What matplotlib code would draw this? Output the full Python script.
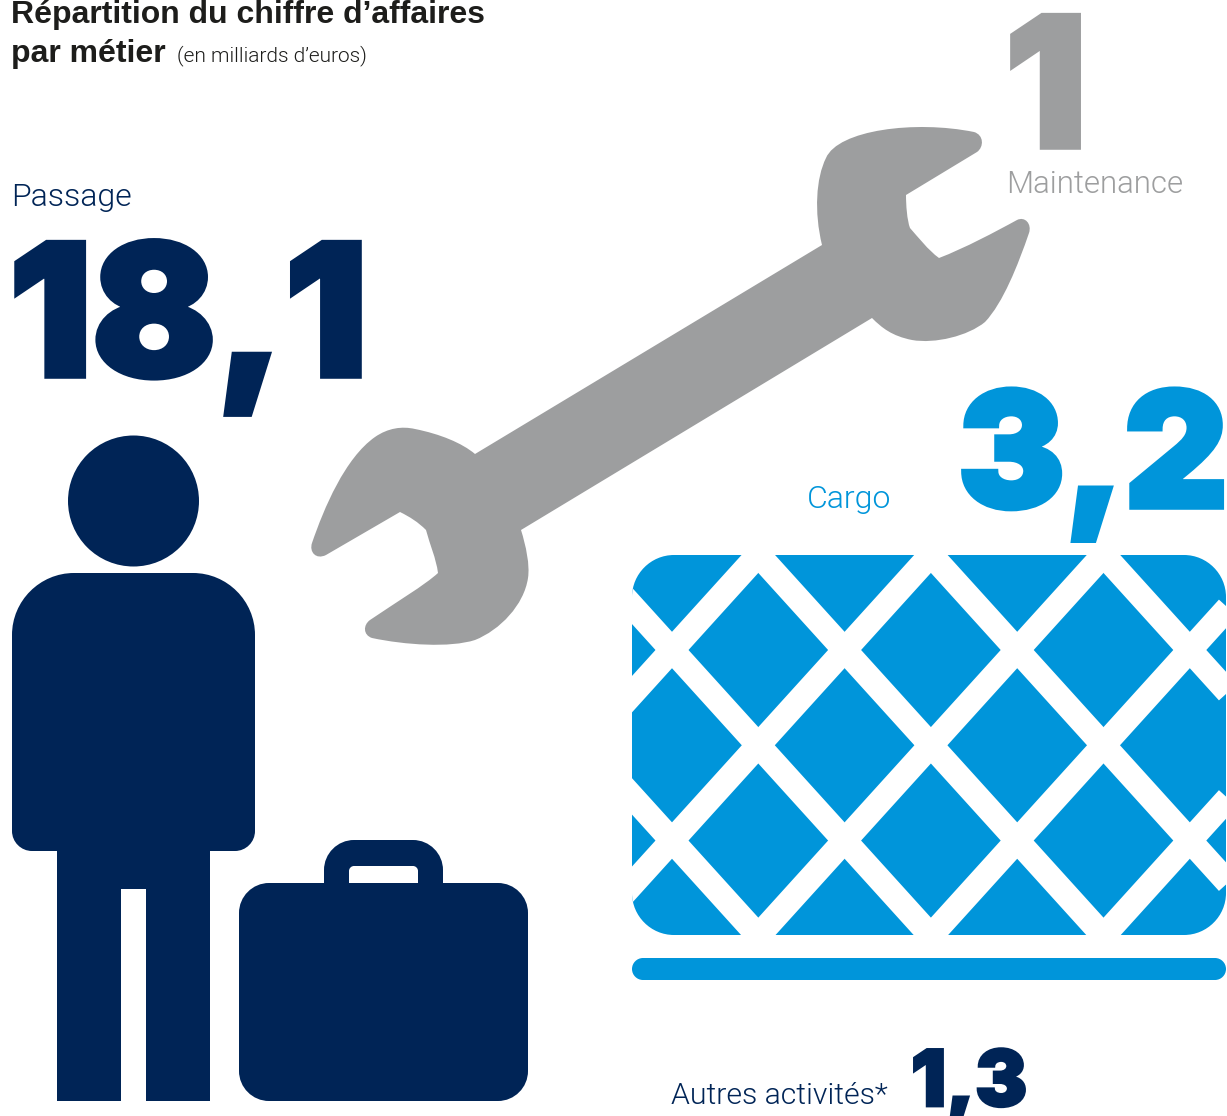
import matplotlib
matplotlib.use("Agg")
import matplotlib.pyplot as plt
import matplotlib.patheffects as pe
from matplotlib.patches import Circle, PathPatch, Rectangle
from matplotlib.path import Path

# Revenue by business line, in billions of euros
categories = ["Passage", "Maintenance", "Cargo", "Autres activités*"]
values = [18.1, 1, 3.2, 1.3]
title_lines = ["Répartition du chiffre d’affaires", "par métier"]
unit_note = "(en milliards d’euros)"

NAVY = "#002456"
GREY = "#9d9e9f"
BLUE = "#0095da"
INK = "#1d1d1b"
TITLE_FONT = "Liberation Sans"
LIGHT_FONT = "Roboto"
HEAVY_FONT = "Inter"


def fmt(v):
    return f"{v:g}".replace(".", ",")


def rounded(x0, y0, x1, y1, rt, rb=None):
    """Closed path for a box with top radius rt and bottom radius rb."""
    rb = rt if rb is None else rb
    k = 0.45
    verts = [
        (x0 + rt, y0), (x1 - rt, y0),
        (x1 - rt * k, y0), (x1, y0 + rt * k), (x1, y0 + rt),
        (x1, y1 - rb),
        (x1, y1 - rb * k), (x1 - rb * k, y1), (x1 - rb, y1),
        (x0 + rb, y1),
        (x0 + rb * k, y1), (x0, y1 - rb * k), (x0, y1 - rb),
        (x0, y0 + rt),
        (x0, y0 + rt * k), (x0 + rt * k, y0), (x0 + rt, y0),
        (x0 + rt, y0),
    ]
    C, L = Path.CURVE4, Path.LINETO
    codes = [Path.MOVETO, L, C, C, C, L, C, C, C, L, C, C, C, L, C, C, C, Path.CLOSEPOLY]
    return Path(verts, codes)


fig = plt.figure(figsize=(12.27, 11.16), dpi=100)
ax = fig.add_axes([0, 0, 1, 1])
ax.set_xlim(0, 1227)
ax.set_ylim(1116, 0)
ax.axis("off")


def box(x0, y0, x1, y1, rt, rb=None, color=NAVY, **kw):
    patch = PathPatch(rounded(x0, y0, x1, y1, rt, rb), fc=color, ec="none", **kw)
    ax.add_patch(patch)
    return patch


# Traveller and suitcase
ax.add_patch(Circle((133.5, 501), 65.5, fc=NAVY, ec="none"))
box(12, 573, 255, 851, 62, 20)
ax.add_patch(Rectangle((57, 845), 153, 256, fc=NAVY, ec="none"))
ax.add_patch(Rectangle((121, 889), 25, 213, fc="white", ec="none"))
box(324, 840, 443, 900, 30, 0)
box(349, 866, 418, 890, 5, 0, color="white")
box(239, 883, 528, 1101, 30)

# Wrench outline
M, L, C = Path.MOVETO, Path.LINETO, Path.CURVE4
wrench = [
    (M, [(822, 245)]),
    (C, [(814, 212), (816, 178), (826, 158)]),
    (C, [(838, 130), (915, 120), (974, 132)]),
    (C, [(984, 135), (984, 147), (977, 152)]),
    (L, [(906, 195)]),
    (C, [(906, 205), (907, 220), (910, 228)]),
    (C, [(918, 237), (928, 250), (939, 258)]),
    (C, [(965, 248), (995, 232), (1017, 220)]),
    (C, [(1025, 216), (1032, 224), (1029, 233)]),
    (C, [(1018, 265), (1003, 303), (985, 322)]),
    (C, [(968, 336), (935, 344), (912, 340)]),
    (C, [(892, 336), (882, 328), (872, 318)]),
    (L, [(521, 530)]),
    (C, [(526, 546), (530, 565), (528, 578)]),
    (C, [(524, 605), (500, 630), (475, 640)]),
    (C, [(450, 648), (405, 645), (372, 638)]),
    (C, [(363, 635), (363, 625), (370, 620)]),
    (C, [(395, 603), (425, 585), (438, 573)]),
    (C, [(436, 558), (430, 545), (426, 530)]),
    (C, [(418, 522), (410, 517), (400, 512)]),
    (L, [(326, 555)]),
    (C, [(316, 560), (309, 552), (312, 543)]),
    (C, [(324, 508), (345, 458), (375, 437)]),
    (C, [(388, 428), (402, 426), (415, 429)]),
    (C, [(440, 434), (462, 443), (475, 454)]),
    (L, [(822, 245)]),
]
verts, codes = [], []
for code, pts in wrench:
    verts.extend(pts)
    codes.extend([code] * len(pts))
ax.add_patch(PathPatch(Path(verts, codes), fc=GREY, ec="none"))

# Cargo container with its crossed straps
crate = box(632, 555, 1226, 935, 42, color=BLUE)
strap_slope = 1.104
strap_pitch = 172.6
for k in range(-3, 7):
    x_mid = 672 + strap_pitch * k
    for sign in (1, -1):
        ys = [500, 1000]
        xs = [x_mid + sign * (y - 650) / strap_slope for y in ys]
        line, = ax.plot(xs, ys, color="white", lw=17.6, solid_capstyle="butt")
        line.set_clip_path(crate)
box(632, 958, 1226, 980, 11, color=BLUE)


def headline(x, y, txt, size, color, stroke):
    t = ax.text(x, y, txt, fontsize=size, color=color, family=HEAVY_FONT,
                weight=900, ha="left", va="baseline")
    t.set_path_effects([pe.Stroke(linewidth=stroke, foreground=color, joinstyle="miter"),
                        pe.Normal()])


def label(x, y, txt, size, color):
    ax.text(x, y, txt, fontsize=size, color=color, family=LIGHT_FONT,
            weight=300, ha="left", va="baseline")


# Heading
for yy, line_text in zip((23, 62), title_lines):
    ax.text(11, yy, line_text, fontsize=23, color=INK, family=TITLE_FONT, weight="bold")
label(177, 61, unit_note, 15, INK)

# Category names and their amounts
label(11, 206, categories[0], 23, NAVY)
label(1006, 193, categories[1], 22.5, GREY)
label(807, 508, categories[2], 23, BLUE)
label(671, 1104, categories[3], 21.8, NAVY)

headline(9, 376, fmt(values[0]), 132, NAVY, 4)
headline(1005, 147, fmt(values[1]), 130, GREY, 4)
headline(958, 507, fmt(values[2]), 115, BLUE, 4)
headline(911, 1106, fmt(values[3]), 56, NAVY, 2)

fig.savefig("out.png", dpi=100, facecolor="white")
